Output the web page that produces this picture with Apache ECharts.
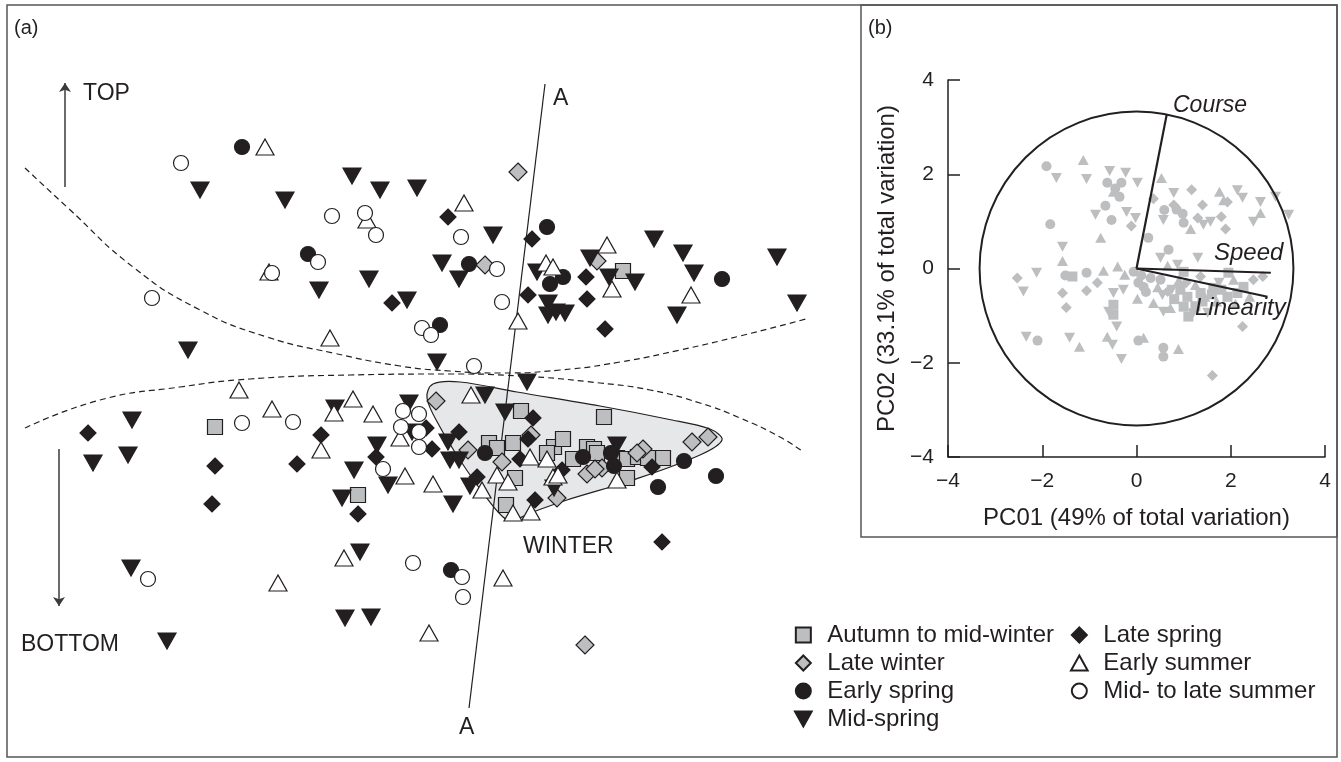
<!DOCTYPE html>
<html>
<head>
<meta charset="utf-8">
<title>Seasonal ordination</title>
<script src="https://cdn.jsdelivr.net/npm/echarts@6.0.0/dist/echarts.min.js"></script>
<style>
  html, body { margin: 0; padding: 0; background: #fff; }
  #main { width: 1341px; height: 762px; }
</style>
</head>
<body>
<div id="main"></div>
<script>
// panel (a): ordination positions (hidden axes, arbitrary units)
var autumnMidWinter = [[623,271],[215,427],[358,495],[521,411],[604,417],[489,443],[497,448],[513,443],[554,447],[563,439],[573,459],[587,447],[594,449],[617,458],[627,459],[638,457],[663,458],[627,478],[515,478],[506,505],[547,453],[597,453],[648,458]];
var lateWinter = [[518,172],[485,265],[597,261],[436,401],[468,450],[531,435],[502,462],[643,449],[637,453],[587,474],[602,468],[692,442],[708,437],[557,498],[585,645],[595,469]];
var earlySpring = [[242,147],[308,254],[440,325],[469,264],[547,227],[563,277],[550,284],[722,279],[485,453],[583,457],[611,453],[614,466],[684,461],[658,487],[716,476],[451,570]];
var midSpring = [[200,190],[285,200],[352,176],[380,190],[417,188],[319,290],[369,279],[407,300],[188,350],[437,362],[442,263],[493,235],[459,279],[590,258],[537,272],[609,277],[635,282],[548,303],[548,315],[556,312],[565,313],[654,239],[683,253],[694,273],[677,315],[777,257],[797,303],[527,382],[132,420],[93,463],[128,455],[335,408],[354,470],[377,445],[388,485],[342,498],[409,403],[412,432],[360,552],[131,568],[345,618],[371,617],[167,641],[485,395],[505,412],[448,442],[450,460],[459,460],[617,445],[470,486],[554,488],[453,504]];
var lateSpring = [[392,303],[448,217],[532,239],[586,277],[528,295],[587,299],[605,329],[88,433],[321,435],[215,466],[297,464],[212,504],[376,457],[358,514],[426,428],[432,449],[533,418],[459,432],[528,439],[520,459],[562,470],[652,467],[477,477],[535,500],[662,542]];
var earlySummer = [[265,147],[367,220],[269,272],[330,338],[464,203],[607,245],[546,263],[553,267],[612,289],[518,321],[691,295],[239,390],[272,409],[334,413],[353,399],[373,414],[321,450],[405,476],[433,484],[400,438],[344,558],[278,583],[429,633],[471,395],[530,457],[547,459],[617,480],[482,490],[497,475],[508,482],[553,477],[558,475],[513,513],[531,512],[503,578]];
var midLateSummer = [[181,163],[332,216],[365,213],[376,235],[318,262],[272,273],[152,298],[422,328],[431,335],[461,237],[497,269],[502,302],[474,366],[242,423],[293,422],[383,469],[403,411],[419,414],[401,427],[419,432],[419,447],[413,563],[148,579],[462,577],[463,597]];

// panel (a) annotations
var upperBoundary = [[25,168],[67,207],[133,267],[200,310],[267,337],[333,353],[400,366],[450,371],[500,373],[560,370],[620,362],[680,350],[740,336],[806,319]];
var lowerBoundary = [[25,428],[100,400],[180,387],[250,379],[350,375],[450,374],[520,376],[600,383],[650,390],[700,403],[740,418],[780,437],[802,451]];
var winterHull = [[433,384],[460,382],[517,392],[600,406],[667,419],[710,429],[722,440],[700,455],[633,480],[567,500],[533,512],[513,520],[503,517],[483,493],[460,460],[440,427],[427,398]];
var axisA = [[545,84],[469,708]];
var topArrow = [[65,187],[65,83]];
var bottomArrow = [[59,449],[59,606]];

// panel (b): PCA scores (grey) and loadings
var pcCircle = [[-1.91,2.17],[-0.62,1.82],[-0.32,1.82],[-0.36,1.52],[-0.66,1.33],[-0.53,1.03],[-1.83,0.94],[0.25,0.65],[0.59,1.24],[0.98,1.16],[1.00,0.97],[0.68,0.40],[-1.51,-0.15],[-1.06,-0.09],[-0.06,-0.07],[0.04,-0.30],[0.15,-0.39],[0.51,-0.24],[-2.10,-1.53],[0.04,-1.53],[0.57,-1.68],[0.57,-1.87],[0.30,-0.20],[0.20,-0.50],[-0.45,1.70],[0.85,1.25],[0.10,-0.15]];
var pcTriangle = [[-1.13,2.30],[-0.49,1.63],[-0.76,0.65],[0.53,1.92],[1.15,0.84],[1.76,1.63],[2.63,1.18],[0.66,0.06],[-1.57,0.16],[-0.70,-0.05],[-0.40,0.04],[-0.25,-0.13],[0.02,-0.64],[0.36,-0.73],[0.72,-0.84],[2.06,-0.24],[-1.21,-1.66],[-0.62,-1.45],[0.15,-1.47],[0.89,-1.71],[1.25,-0.35],[1.70,-0.70],[0.90,-0.25],[1.85,1.45],[2.10,-0.75],[1.45,-0.60],[0.45,-0.40],[2.40,-0.60]];
var pcDownTri = [[-1.70,1.92],[-1.06,1.90],[-0.57,2.07],[-0.23,2.03],[0.02,1.82],[-0.21,1.20],[-0.87,1.14],[-0.02,1.07],[0.79,1.60],[0.57,1.03],[1.57,0.99],[1.42,0.93],[2.14,1.66],[2.25,1.50],[2.63,1.41],[2.48,0.99],[3.23,1.14],[2.95,1.52],[0.51,0.23],[1.30,0.23],[0.87,0.08],[-1.57,0.46],[-2.12,-0.09],[-2.40,-0.49],[-0.49,-0.52],[-0.28,-0.45],[-0.59,-0.92],[-0.42,-1.23],[0.55,-0.56],[0.57,-0.92],[1.51,-0.94],[-2.34,-1.45],[-1.42,-1.47],[-0.51,-1.62],[-0.32,-1.92],[1.20,-0.95],[1.75,-0.30],[0.75,-0.45]];
var pcDiamond = [[-0.11,0.90],[0.36,1.48],[0.79,1.35],[1.17,1.67],[1.30,1.07],[1.40,1.35],[1.93,1.41],[1.80,1.10],[1.89,0.84],[-2.53,-0.20],[-1.57,-0.52],[-1.49,-0.83],[-1.06,-0.47],[-0.83,-0.30],[0.66,-0.49],[2.48,-0.24],[2.68,-0.17],[1.36,-0.17],[2.25,-1.23],[1.61,-2.27],[1.05,-0.30]];
var pcSquare = [[-1.36,-0.17],[-0.49,-0.77],[-0.49,-0.98],[0.93,-0.45],[1.08,-0.60],[1.00,-0.81],[1.10,-1.02],[1.36,-0.52],[1.63,-0.41],[1.93,-0.60],[2.14,-0.52],[2.27,-0.39],[1.95,-0.09],[1.00,-0.07],[1.25,-0.80],[1.60,-0.55],[0.80,-0.65],[1.80,-0.45],[1.40,-0.70]];
var loadingNames = ['Course', 'Speed', 'Linearity'];
var loadings = [[0.64,3.26],[2.85,-0.09],[2.78,-0.60]];
var circleRadius = 3.33;

var dark = '#231f20';
var grey = '#bcbec0';
var font = 'Liberation Sans, Arial, Helvetica, sans-serif';
// path symbols so the legend keeps their aspect
var squareSym = 'path://M0,0H10V10H0Z';
var diamondSym = 'path://M5,0L10,5L5,10L0,5Z';
var upTri = 'path://M10,0L20,18L0,18Z';
var downTri = 'path://M0,0L20,0L10,18Z';

var chart = echarts.init(document.getElementById('main'));

function season(name, data, symbol, size, fill) {
  return {
    name: name, type: 'scatter', xAxisIndex: 0, yAxisIndex: 0,
    data: data, symbol: symbol, symbolSize: size,
    itemStyle: { color: fill, borderColor: dark, borderWidth: 1.2, opacity: 1 },
    z: 5
  };
}
function pcScores(id, data, symbol, size) {
  return {
    name: 'pc-' + id, type: 'scatter', xAxisIndex: 1, yAxisIndex: 1,
    data: data, symbol: symbol, symbolSize: size,
    itemStyle: { color: grey, opacity: 1 }, z: 3
  };
}
var minus = function (v) { return String(v).replace('-', '\u2212'); };
var legendText = { fontSize: 24, lineHeight: 24, color: dark, fontFamily: font };

var option = {
  animation: false,
  backgroundColor: '#fff',
  textStyle: { fontFamily: font },
  grid: [
    { left: 0, top: 0, width: 1341, height: 762 },
    { left: 948, top: 80, width: 377, height: 377 }
  ],
  xAxis: [
    { gridIndex: 0, type: 'value', min: 0, max: 1341, show: false },
    {
      gridIndex: 1, type: 'value', min: -4, max: 4, interval: 2,
      name: 'PC01 (49% of total variation)', nameLocation: 'middle', nameGap: 49,
      nameTextStyle: { fontSize: 24, color: dark, fontFamily: font },
      axisLine: { onZero: false, lineStyle: { color: dark, width: 1.5 } },
      axisTick: { inside: true, length: 12, lineStyle: { color: dark, width: 1.5 } },
      axisLabel: { fontSize: 21, color: dark, margin: 14, formatter: minus, fontFamily: font },
      splitLine: { show: false }
    }
  ],
  yAxis: [
    { gridIndex: 0, type: 'value', min: 0, max: 762, inverse: true, show: false },
    {
      gridIndex: 1, type: 'value', min: -4, max: 4, interval: 2,
      name: 'PC02 (33.1% of total variation)', nameLocation: 'middle', nameGap: 49,
      nameTextStyle: { fontSize: 24, color: dark, fontFamily: font },
      axisLine: { onZero: false, lineStyle: { color: dark, width: 1.5 } },
      axisTick: { inside: true, length: 12, lineStyle: { color: dark, width: 1.5 } },
      axisLabel: { fontSize: 21, color: dark, margin: 14, formatter: minus, fontFamily: font },
      splitLine: { show: false }
    }
  ],
  legend: [
    {
      data: ['Autumn to mid-winter', 'Late winter', 'Early spring', 'Mid-spring'],
      orient: 'vertical', left: 789, top: 618, itemWidth: 38, itemHeight: 15, itemGap: 4,
      symbolKeepAspect: true, textStyle: legendText, selectedMode: false
    },
    {
      data: ['Late spring', 'Early summer', 'Mid- to late summer'],
      orient: 'vertical', left: 1065, top: 618, itemWidth: 38, itemHeight: 15, itemGap: 4,
      symbolKeepAspect: true, textStyle: legendText, selectedMode: false
    }
  ],
  series: [
    {
      type: 'custom', name: 'winter-hull', xAxisIndex: 0, yAxisIndex: 0,
      data: [[0, 0]], z: 1, silent: true,
      renderItem: function (params, api) {
        var pts = winterHull.map(function (p) { return api.coord(p); });
        return {
          type: 'polygon',
          shape: { points: pts, smooth: 0.35 },
          style: { fill: '#e6e7e8', stroke: dark, lineWidth: 1.2 }
        };
      }
    },
    {
      type: 'line', name: 'upper-boundary', xAxisIndex: 0, yAxisIndex: 0,
      data: upperBoundary, smooth: 0.5, symbol: 'none', z: 2, silent: true,
      lineStyle: { color: dark, width: 1.2, type: [6, 4] }
    },
    {
      type: 'line', name: 'lower-boundary', xAxisIndex: 0, yAxisIndex: 0,
      data: lowerBoundary, smooth: 0.5, symbol: 'none', z: 2, silent: true,
      lineStyle: { color: dark, width: 1.2, type: [6, 4] }
    },
    {
      type: 'lines', name: 'guides', coordinateSystem: 'cartesian2d', xAxisIndex: 0, yAxisIndex: 0,
      z: 2, silent: true,
      data: [
        { coords: axisA, symbol: ['none', 'none'], lineStyle: { color: dark, width: 1.2 } },
        { coords: topArrow, symbol: ['none', 'arrow'], symbolSize: 9, lineStyle: { color: '#3a3a3a', width: 1.5 } },
        { coords: bottomArrow, symbol: ['none', 'arrow'], symbolSize: 9, lineStyle: { color: '#3a3a3a', width: 1.5 } }
      ],
      lineStyle: { color: dark, width: 1.2, opacity: 1 }
    },
    season('Autumn to mid-winter', autumnMidWinter, squareSym, 15, grey),
    season('Late winter', lateWinter, diamondSym, 18, grey),
    season('Early spring', earlySpring, 'circle', 15, dark),
    season('Mid-spring', midSpring, downTri, [18, 16], dark),
    season('Late spring', lateSpring, diamondSym, 16, dark),
    season('Early summer', earlySummer, upTri, [18, 16], '#fff'),
    season('Mid- to late summer', midLateSummer, 'circle', 15, '#fff'),
    pcScores('circle', pcCircle, 'circle', 10),
    pcScores('triangle', pcTriangle, upTri, [11, 10]),
    pcScores('downtri', pcDownTri, downTri, [11, 10]),
    pcScores('diamond', pcDiamond, diamondSym, 11),
    pcScores('square', pcSquare, squareSym, 10),
    {
      type: 'custom', name: 'circle', xAxisIndex: 1, yAxisIndex: 1,
      data: [[0, 0, circleRadius]], z: 4, silent: true,
      renderItem: function (params, api) {
        var c = api.coord([api.value(0), api.value(1)]);
        var r = api.size([api.value(2), 0])[0];
        return { type: 'circle', shape: { cx: c[0], cy: c[1], r: r },
          style: { fill: 'none', stroke: dark, lineWidth: 2 } };
      }
    },
    {
      type: 'lines', name: 'loadings', coordinateSystem: 'cartesian2d', xAxisIndex: 1, yAxisIndex: 1,
      z: 6, silent: true,
      data: loadings.map(function (p, i) { return { name: loadingNames[i], coords: [[0, 0], p] }; }),
      lineStyle: { color: dark, width: 2.2, opacity: 1 }
    }
  ],
  graphic: [
    { type: 'rect', shape: { x: 7, y: 5, width: 1330, height: 752 }, style: { fill: 'none', stroke: '#555', lineWidth: 1.5 }, z: 100 },
    { type: 'rect', shape: { x: 861, y: 5, width: 476, height: 532 }, style: { fill: 'none', stroke: '#555', lineWidth: 1.5 }, z: 100 },
    { type: 'text', x: 14, y: 28, style: { text: '(a)', fontSize: 20, fontFamily: font, fill: dark, verticalAlign: 'middle' } },
    { type: 'text', x: 868, y: 28, style: { text: '(b)', fontSize: 20, fontFamily: font, fill: dark, verticalAlign: 'middle' } },
    { type: 'text', x: 83, y: 94, style: { text: 'TOP', fontSize: 23, fontFamily: font, fill: dark, verticalAlign: 'middle' } },
    { type: 'text', x: 21, y: 645, style: { text: 'BOTTOM', fontSize: 23, fontFamily: font, fill: dark, verticalAlign: 'middle' } },
    { type: 'text', x: 553, y: 99, style: { text: 'A', fontSize: 23, fontFamily: font, fill: dark, verticalAlign: 'middle' } },
    { type: 'text', x: 459, y: 728, style: { text: 'A', fontSize: 23, fontFamily: font, fill: dark, verticalAlign: 'middle' } },
    { type: 'text', x: 523, y: 547, style: { text: 'WINTER', fontSize: 23, fontFamily: font, fill: dark, verticalAlign: 'middle' } },
    { type: 'text', x: 1173, y: 106, style: { text: 'Course', fontSize: 23, fontStyle: 'italic', fontFamily: font, fill: dark, verticalAlign: 'middle' }, z: 10 },
    { type: 'text', x: 1214, y: 253, style: { text: 'Speed', fontSize: 24, fontStyle: 'italic', fontFamily: font, fill: dark, verticalAlign: 'middle' }, z: 10 },
    { type: 'text', x: 1195, y: 308, style: { text: 'Linearity', fontSize: 24, fontStyle: 'italic', fontFamily: font, fill: dark, verticalAlign: 'middle' }, z: 10 }
  ]
};

option && chart.setOption(option);
</script>
</body>
</html>
